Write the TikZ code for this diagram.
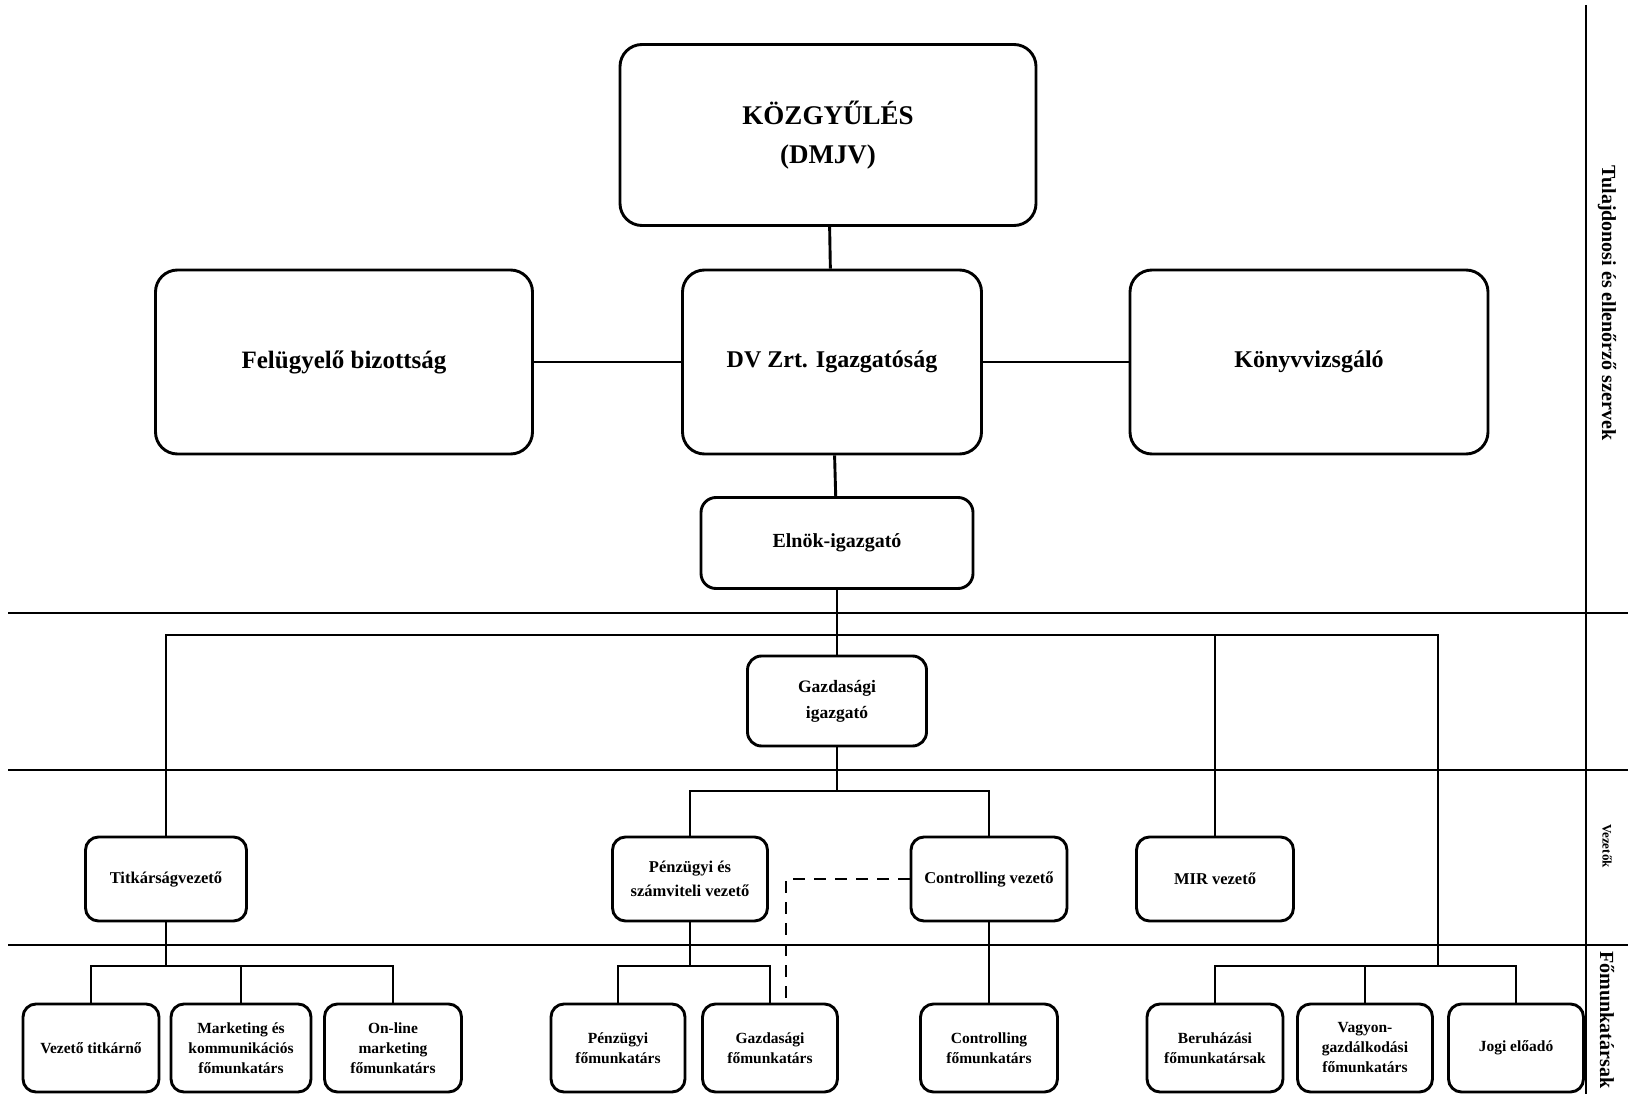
\documentclass[tikz,border=0pt]{standalone}
\usepackage{fontspec}
\setmainfont{Liberation Serif}
\usetikzlibrary{positioning}

\begin{document}
\begin{tikzpicture}[x=1pt,y=-1pt,line width=2.9pt,
  box/.style={draw,rounded corners=22pt,align=center,inner sep=0pt,font=\bfseries},
  midbox/.style={box,minimum height=184pt,font=\fontsize{24}{30}\selectfont\bfseries},
  vbox/.style={box,rounded corners=13pt,minimum width=156pt,minimum height=84pt,font=\fontsize{16.5}{24}\selectfont\bfseries},
  fbox/.style={box,rounded corners=13pt,minimum width=136pt,minimum height=88pt,font=\fontsize{15.5}{20}\selectfont\bfseries},
  sidelabel/.style={rotate=-90,font=\fontsize{20}{22}\selectfont\bfseries},
  sep/.style={line width=2.5pt}]
\useasboundingbox (0,0) rectangle (1628,1094);

\node[box,minimum width=416pt,minimum height=181pt,font=\fontsize{27}{39}\selectfont\bfseries] (kozgy) at (828,135) {KÖZGYŰLÉS\\(DMJV)};
\node[midbox,minimum width=299pt] (dvzrt) at (832,362) {DV Zrt. Igazgatóság};
\node[midbox,minimum width=377pt,font=\fontsize{25}{30}\selectfont\bfseries] (felugy) at (344,362) {Felügyelő bizottság};
\node[midbox,minimum width=358pt] (konyv) at (1309,362) {Könyvvizsgáló};
\node[box,rounded corners=15pt,minimum width=272pt,minimum height=91pt,font=\fontsize{20}{24}\selectfont\bfseries] (elnok) at (837,543) {Elnök-igazgató};
\node[box,rounded corners=14pt,minimum width=179pt,minimum height=90pt,font=\fontsize{17.5}{26}\selectfont\bfseries] (gazd) at (837,701) {Gazdasági\\igazgató};

\node[vbox,minimum width=161pt] (titk) at (166,879) {Titkárságvezető};
\node[vbox,minimum width=155pt] (penz) at (690,879) {Pénzügyi és\\számviteli vezető};
\node[vbox] (contr) at (989,879) {Controlling vezető};
\node[vbox,minimum width=157pt] (mir) at (1215,879) {MIR vezető};

\node[fbox] (vtit) at (91,1048) {Vezető titkárnő};
\node[fbox,minimum width=140pt] (mark) at (241,1048) {Marketing és\\kommunikációs\\főmunkatárs};
\node[fbox,minimum width=137pt] (onl) at (393,1048) {On-line\\marketing\\főmunkatárs};
\node[fbox,minimum width=134pt] (penzf) at (618,1048) {Pénzügyi\\főmunkatárs};
\node[fbox,minimum width=135pt] (gazdf) at (770,1048) {Gazdasági\\főmunkatárs};
\node[fbox,minimum width=137pt] (contrf) at (989,1048) {Controlling\\főmunkatárs};
\node[fbox] (beruh) at (1215,1048) {Beruházási\\főmunkatársak};
\node[fbox,minimum width=135pt] (vagy) at (1365,1048) {Vagyon-\\gazdálkodási\\főmunkatárs};
\node[fbox,minimum width=135pt] (jogi) at (1516,1048) {Jogi előadó};

\node[sidelabel] (tulaj) at (1607,303) {Tulajdonosi és ellenőrző szervek};
\node[sidelabel,font=\fontsize{13}{16}\selectfont\bfseries] (vez) at (1607,846) {Vezetők};
\node[sidelabel] (fomunk) at (1607,1020) {Főmunkatársak};

\draw[sep] (8,613) -- (1628,613);
\draw[sep] (8,770) -- (1628,770);
\draw[sep] (8,945) -- (1628,945);
\draw[sep] (1586,5) -- (1586,1094);

\coordinate (b1) at (837,635);
\coordinate (b2) at (837,791);
\coordinate (b3a) at (166,966);
\coordinate (b3b) at (690,966);
\coordinate (b3c) at (1438,966);

\draw (kozgy) -- (dvzrt);
\draw (felugy) -- (dvzrt) -- (konyv);
\draw (dvzrt) -- (elnok);
\draw (elnok) -- (gazd);
\draw (titk.north) |- (b1) -| (b3c);
\draw (mir.north) |- (b1);
\draw (gazd) -- (b2);
\draw (penz.north) |- (b2) -| (contr.north);
\draw (titk) -- (b3a);
\draw (vtit.north) |- (b3a) -| (onl.north);
\draw (mark) -- (mark |- b3a);
\draw (penz) -- (b3b);
\draw (penzf.north) |- (b3b) -| (gazdf.north);
\draw (contr) -- (contrf);
\draw (beruh.north) |- (b3c) -| (jogi.north);
\draw (vagy) -- (vagy |- b3c);
\draw[dashed,dash pattern=on 12pt off 9pt] (contr.west) -| ([xshift=16pt]gazdf.north);
\end{tikzpicture}
\end{document}
